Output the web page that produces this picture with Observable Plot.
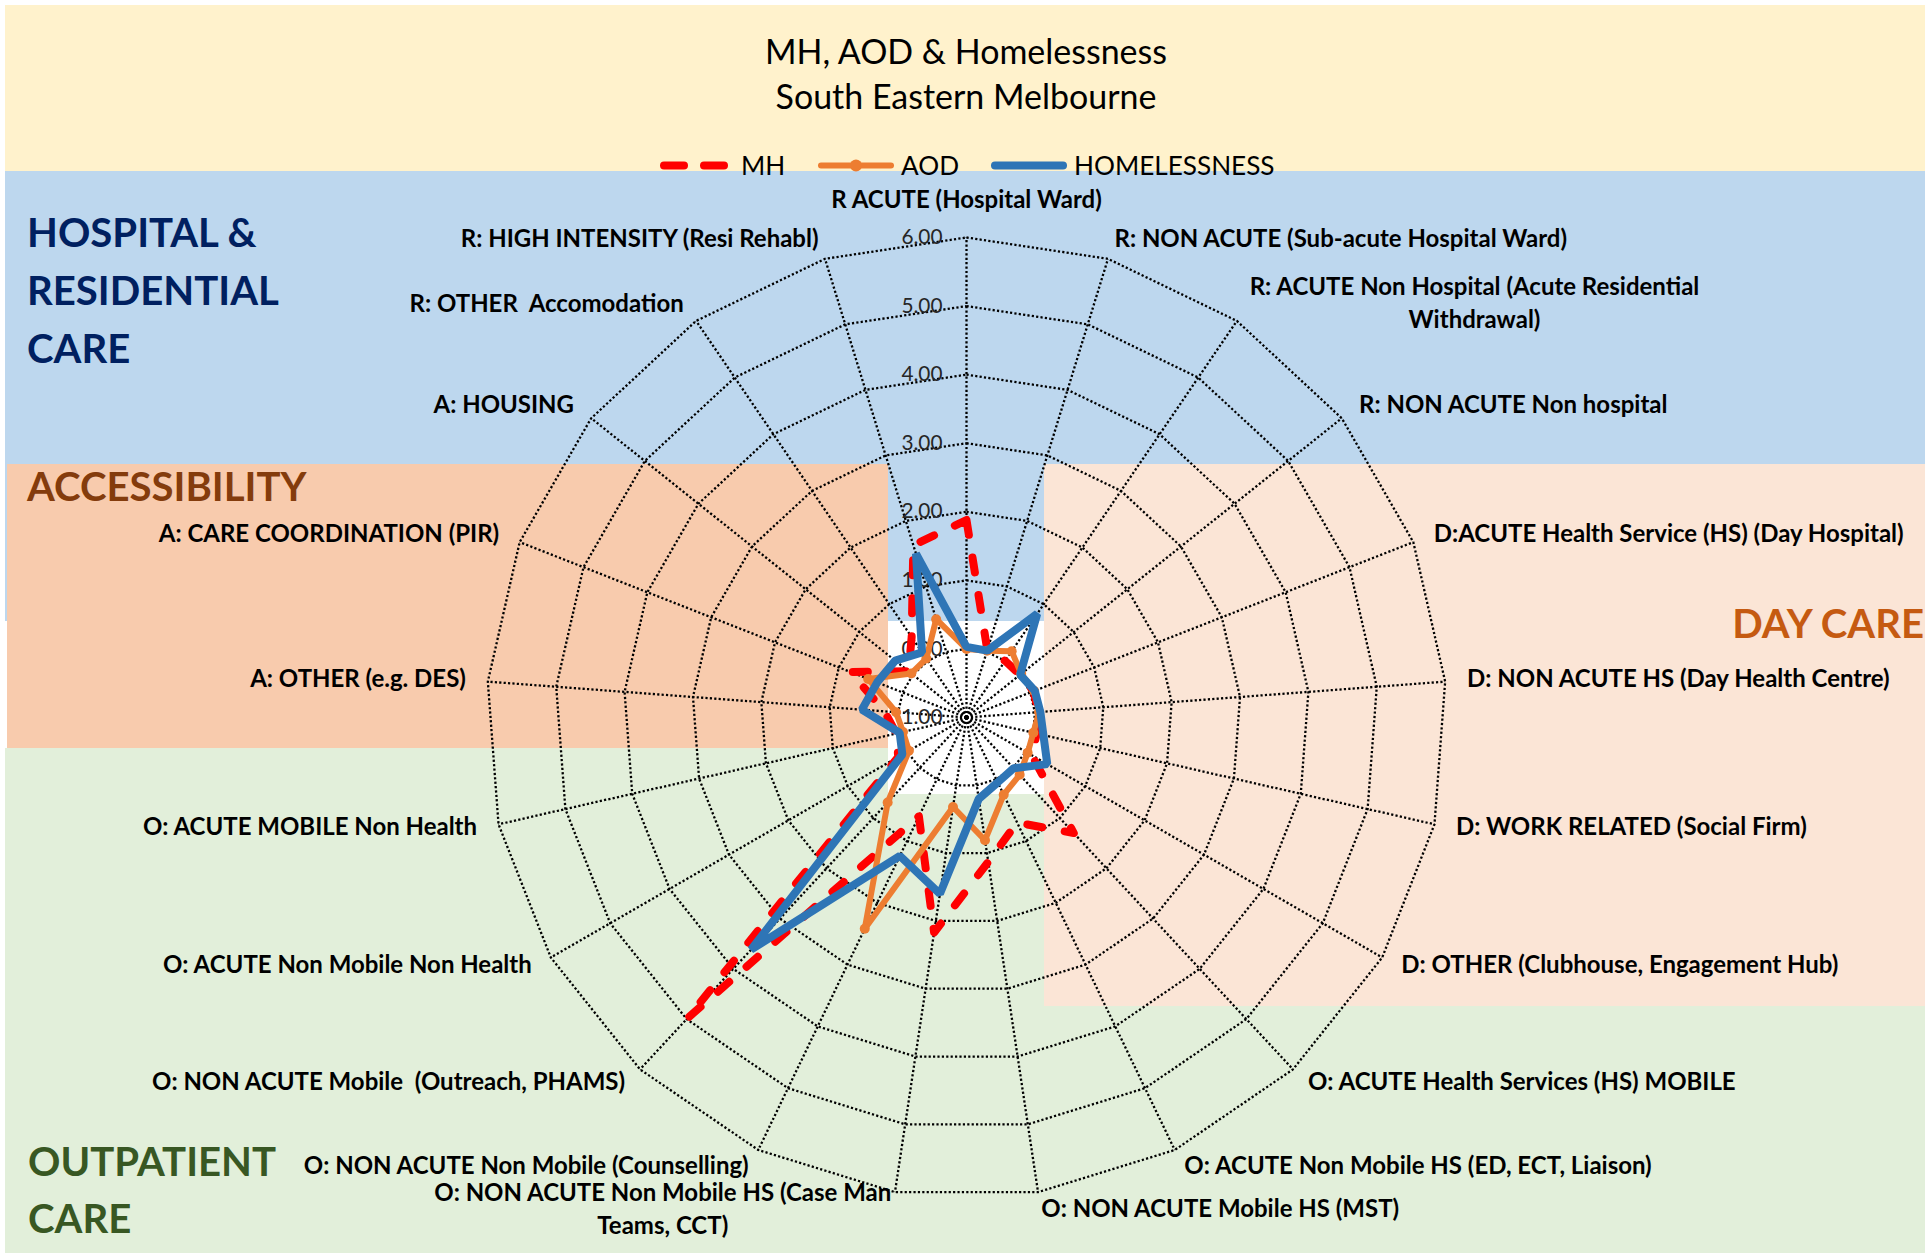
<!DOCTYPE html>
<html>
<head>
<meta charset="utf-8">
<script src="https://cdn.jsdelivr.net/npm/d3@7"></script>
<script src="https://cdn.jsdelivr.net/npm/@observablehq/plot@0.6"></script>
<style>
  html, body { margin: 0; padding: 0; background: #ffffff; }
  #wrap { position: relative; width: 1929px; height: 1256px; overflow: hidden; font-family: Lato, "Open Sans", sans-serif; }
  .bg { position: absolute; }
  #overlay { position: absolute; left: 0; top: 0; }
  #chart { position: absolute; left: 0; top: 171px; }
</style>
</head>
<body>
<div id="wrap">
  <div class="bg" style="left:5px;top:5px;width:1920px;height:166px;background:#FFF2CC"></div>
  <div class="bg" style="left:5px;top:171px;width:1920px;height:450px;background:#BDD7EE"></div>
  <div class="bg" style="left:7px;top:464px;width:881px;height:284px;background:#F8CBAD"></div>
  <div class="bg" style="left:5px;top:748px;width:883px;height:505px;background:#E2EFDA"></div>
  <div class="bg" style="left:888px;top:794px;width:1037px;height:459px;background:#E2EFDA"></div>
  <div class="bg" style="left:1044px;top:464px;width:881px;height:542px;background:#FBE5D6"></div>
  <svg id="overlay" width="1929" height="1256"></svg>
  <div id="chart"></div>
</div>
<script>
// ---------------- DATA ----------------
const categories = [
  "R ACUTE (Hospital Ward)",
  "R: NON ACUTE (Sub-acute Hospital Ward)",
  "R: ACUTE Non Hospital (Acute Residential\nWithdrawal)",
  "R: NON ACUTE Non hospital",
  "D:ACUTE Health Service (HS) (Day Hospital)",
  "D: NON ACUTE HS (Day Health Centre)",
  "D: WORK RELATED (Social Firm)",
  "D: OTHER (Clubhouse, Engagement Hub)",
  "O: ACUTE Health Services (HS) MOBILE",
  "O: ACUTE Non Mobile HS (ED, ECT, Liaison)",
  "O: NON ACUTE Mobile HS (MST)",
  "O: NON ACUTE Non Mobile HS (Case Man\nTeams, CCT)",
  "O: NON ACUTE Non Mobile (Counselling)",
  "O: NON ACUTE Mobile  (Outreach, PHAMS)",
  "O: ACUTE Non Mobile Non Health",
  "O: ACUTE MOBILE Non Health",
  "A: OTHER (e.g. DES)",
  "A: CARE COORDINATION (PIR)",
  "A: HOUSING",
  "R: OTHER  Accomodation",
  "R: HIGH INTENSITY (Resi Rehabl)"
];
const mhValues           = [1.88, 0.03, 0.00, 0.00, 0.05, 0.05, 0.05, 0.10, 1.30, 0.70, 1.13, 2.17, 0.60, 4.98, 0.15, 0.05, 0.20, 0.82, 0.08, 0.42, 1.63];
const aodValues          = [0.00, 0.02, 0.17, 0.02, 0.06, 0.06, 0.00, 0.03, 0.14, 0.25, 0.81, 0.32, 2.42, 0.69, -0.03, -0.05, 0.03, 0.54, 0.03, 0.04, 0.50];
const homelessnessValues = [0.03, 0.02, 0.83, 0.00, 0.07, 0.08, 0.15, 0.36, 0.01, 0.05, 0.20, 1.60, 1.24, 3.62, 0.08, 0.00, 0.53, 0.40, 0.33, 0.15, 1.50];
const seriesNames = ["MH", "AOD", "HOMELESSNESS"];
const tickValues = [-1, 0, 1, 2, 3, 4, 5, 6];
const tickLabels = ["-1.00", "0.00", "1.00", "2.00", "3.00", "4.00", "5.00", "6.00"];
const titleLines = ["MH, AOD & Homelessness", "South Eastern Melbourne"];
const sectionTitles = [
  {lines: ["HOSPITAL &", "RESIDENTIAL", "CARE"], color: "#002060"},
  {lines: ["ACCESSIBILITY"], color: "#843C0C"},
  {lines: ["DAY CARE"], color: "#C55A11"},
  {lines: ["OUTPATIENT", "CARE"], color: "#385723"}
];

// ---------------- LAYOUT ----------------
const FONT = "Lato, 'Open Sans', sans-serif";
const W = 1929, H = 1085;          // chart svg
const CX = 966, CY = 546;          // centre inside chart svg
const RPX = 480;                   // outer ring radius (px)
const MINV = tickValues[0], MAXV = tickValues[tickValues.length - 1];
const U = RPX / (MAXV - MINV);     // px per unit
const N = categories.length;

const ctx = document.createElement("canvas").getContext("2d");
function measure(t, weight, size) { ctx.font = `${weight} ${size}px ${FONT}`; return ctx.measureText(t).width; }
function fit(pairs, weight) {
  let tw = 0, mw = 0;
  for (const [t, w] of pairs) { tw += w; mw += measure(t, weight, 100); }
  return 100 * tw / mw;
}
const labelFS = fit([
  [categories[0], 273], [categories[1], 460], [categories[3], 308], [categories[4], 478],
  [categories[5], 422], [categories[6], 348], [categories[7], 447], [categories[8], 425],
  [categories[16], 217], [categories[17], 331], [categories[18], 134], [categories[19], 275]
], "bold");
const titleFS = fit([[titleLines[0], 397], [titleLines[1], 387]], "normal");
const legendFS = fit([["MH", 45], ["AOD", 55], ["HOMELESSNESS", 203]], "normal");
const sectionFS = fit([["HOSPITAL &", 234], ["RESIDENTIAL", 254], ["ACCESSIBILITY", 279], ["DAY CARE", 192], ["OUTPATIENT", 245]], "bold");
const tickFS = fit([["6.00", 42], ["-1.00", 48]], "normal");

// ---------------- OVERLAY (title, legend, section names) ----------------
const ov = d3.select("#overlay").style("font-family", FONT);
ov.append("text").attr("x", 966).attr("y", 64).attr("text-anchor", "middle")
  .attr("font-size", titleFS).attr("fill", "#000").text(titleLines[0]);
ov.append("text").attr("x", 966).attr("y", 109).attr("text-anchor", "middle")
  .attr("font-size", titleFS).attr("fill", "#000").text(titleLines[1]);

const seriesStyle = {
  MH: {color: "#FF0000", width: 8, dash: "15,23"},
  AOD: {color: "#ED7D31", width: 6, dash: null},
  HOMELESSNESS: {color: "#2E75B6", width: 8, dash: null}
};
const legendPos = [
  {x1: 664, x2: 724, tx: 741, dash: "20,20"},
  {x1: 821, x2: 891, tx: 901, dash: null, marker: true},
  {x1: 995, x2: 1063, tx: 1074, dash: null}
];
seriesNames.forEach((s, k) => {
  const st = seriesStyle[s], p = legendPos[k];
  const ln = ov.append("line").attr("x1", p.x1).attr("x2", p.x2).attr("y1", 165.5).attr("y2", 165.5)
    .attr("stroke", st.color).attr("stroke-width", st.width).attr("stroke-linecap", "round");
  if (p.dash) ln.attr("stroke-dasharray", p.dash);
  if (p.marker) ov.append("circle").attr("cx", (p.x1 + p.x2) / 2).attr("cy", 165.5).attr("r", 6).attr("fill", st.color);
  ov.append("text").attr("x", p.tx).attr("y", 175).attr("font-size", legendFS).attr("fill", "#000").text(s);
});

const sectionPos = [
  {x: 27, y: [247, 305, 363], anchor: "start"},
  {x: 27, y: [501], anchor: "start"},
  {x: 1924, y: [638], anchor: "end"},
  {x: 28, y: [1176, 1233], anchor: "start"}
];
sectionTitles.forEach((s, k) => {
  const p = sectionPos[k];
  s.lines.forEach((ln, j) => {
    ov.append("text").attr("x", p.x).attr("y", p.y[j]).attr("text-anchor", p.anchor)
      .attr("font-size", sectionFS).attr("font-weight", "bold").attr("fill", s.color).text(ln);
  });
});

// ---------------- RADAR via Plot ----------------
const ang = i => i * 2 * Math.PI / N;
const polar = (v, i) => ({x: (v - MINV) * Math.sin(ang(i)), y: (v - MINV) * Math.cos(ang(i))});

const rings = [];
for (const t of tickValues) {
  if (t === MINV) continue;
  for (let i = 0; i <= N; i++) rings.push({ring: t, ...polar(t, i % N)});
}
const spokes = categories.map((c, i) => ({i, ...polar(MAXV, i)}));

const seriesValues = {MH: mhValues, AOD: aodValues, HOMELESSNESS: homelessnessValues};
const pts = name => seriesValues[name].map((v, i) => ({series: name, i, value: v, ...polar(v, i)}));

// label anchor: just outside outer ring, nudged upward a little (more at the bottom)
const labelR = (MAXV - MINV) + 22 / U;
const labels = categories.map((c, i) => {
  const s = Math.sin(ang(i)), co = Math.cos(ang(i));
  const lift = (4 - 3 * co) / U;
  return {i, text: c, x: labelR * s, y: labelR * co + lift, s};
});
const isMulti = d => d.text.includes("\n");
const topLabels = labels.filter(d => d.i === 0);
const rightLabels = labels.filter(d => d.i !== 0 && !isMulti(d) && d.s > 0);
const leftLabels = labels.filter(d => d.i !== 0 && !isMulti(d) && d.s < 0);
const multiR = labels.filter(d => isMulti(d) && d.s > 0);
const multiL = labels.filter(d => isMulti(d) && d.s < 0);
const firstLineW = d => measure(d.text.split("\n")[0], "bold", labelFS);

const gridStyle = {stroke: "#000", strokeWidth: 2.3, strokeDasharray: "2.2,2.2", strokeLinecap: "butt", strokeLinejoin: "miter"};
const labelStyle = {fontSize: labelFS, fontWeight: "bold", fontFamily: FONT, fill: "#000", lineHeight: 1.36};

const marks = [
  Plot.line(rings, {x: "x", y: "y", z: "ring", ...gridStyle}),
  Plot.link(spokes, {x1: () => 0, y1: () => 0, x2: "x", y2: "y", ...gridStyle}),
  Plot.text(tickValues, {x: () => 0, y: d => d - MINV, text: (d, i) => tickLabels[i], textAnchor: "end", dx: -24,
    fontSize: tickFS, fontFamily: FONT, fill: "#262626"}),
  Plot.line(pts("MH"), {x: "x", y: "y", curve: "linear-closed", stroke: seriesStyle.MH.color, strokeWidth: 8,
    strokeDasharray: seriesStyle.MH.dash, strokeLinecap: "round", strokeLinejoin: "round"}),
  Plot.line(pts("AOD"), {x: "x", y: "y", curve: "linear-closed", stroke: seriesStyle.AOD.color, strokeWidth: 6,
    strokeLinejoin: "round"}),
  Plot.dot(pts("AOD"), {x: "x", y: "y", r: 5, fill: seriesStyle.AOD.color}),
  Plot.line(pts("HOMELESSNESS"), {x: "x", y: "y", curve: "linear-closed", stroke: seriesStyle.HOMELESSNESS.color,
    strokeWidth: 8, strokeLinejoin: "miter"}),
  Plot.text(topLabels, {x: "x", y: "y", text: "text", textAnchor: "middle", lineAnchor: "bottom", dy: -7, ...labelStyle}),
  Plot.text(rightLabels, {x: "x", y: "y", text: "text", textAnchor: "start", ...labelStyle}),
  Plot.text(leftLabels, {x: "x", y: "y", text: "text", textAnchor: "end", ...labelStyle})
];
multiR.forEach(d => marks.push(Plot.text([d], {x: "x", y: "y", text: "text", textAnchor: "middle", dx: firstLineW(d) / 2, ...labelStyle})));
multiL.forEach(d => marks.push(Plot.text([d], {x: "x", y: "y", text: "text", textAnchor: "middle", dx: -firstLineW(d) / 2, ...labelStyle})));

const chart = Plot.plot({
  width: W, height: H, margin: 0,
  x: {domain: [-CX / U, (W - CX) / U], range: [0, W], axis: null},
  y: {domain: [-(H - CY) / U, CY / U], range: [H, 0], axis: null},
  style: {background: "transparent", overflow: "visible", whiteSpace: "pre", fontFamily: FONT},
  marks
});
document.getElementById("chart").appendChild(chart);
</script>
</body>
</html>
